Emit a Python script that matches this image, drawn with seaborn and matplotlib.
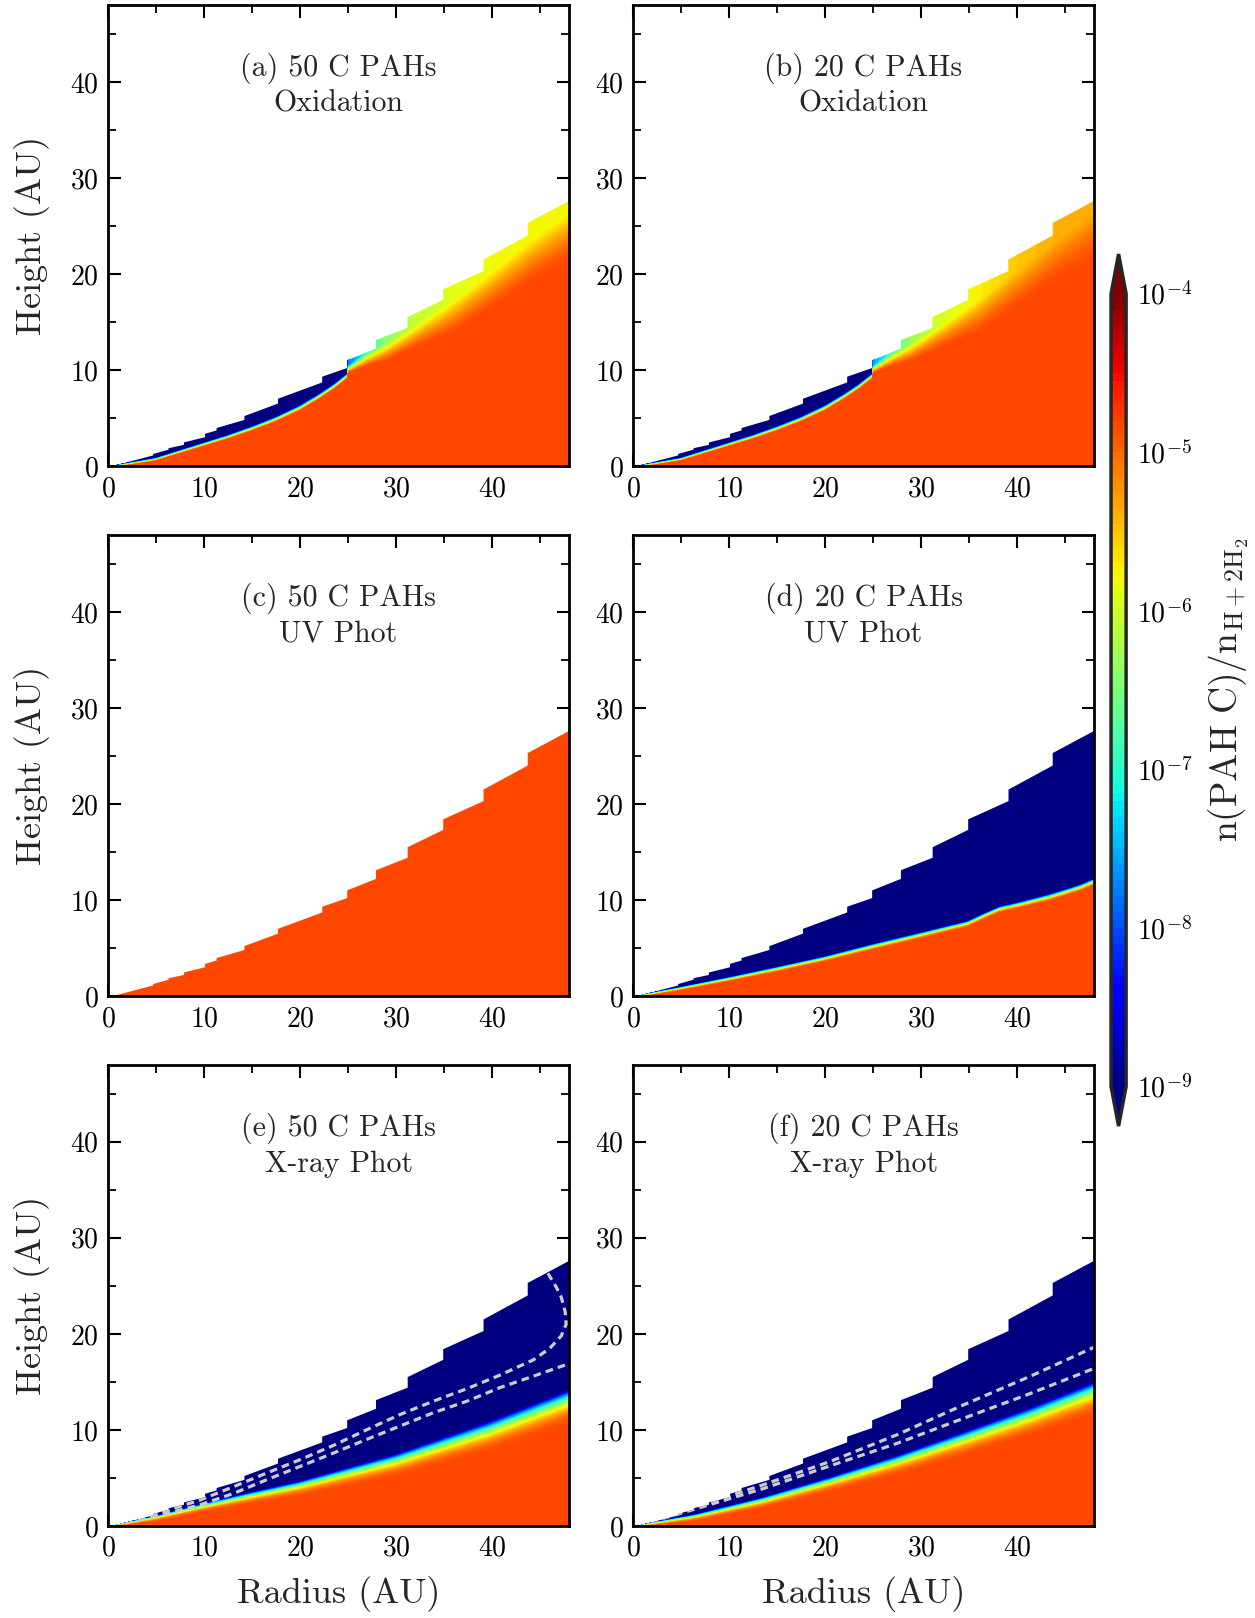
import numpy as np
import seaborn as sns
import matplotlib.pyplot as plt
from matplotlib.path import Path
from matplotlib.ticker import MultipleLocator

# top of the model grid (stepped disk surface), shared by all panels
edge_r = [0.5, 4.7, 6.3, 7.9, 10.1, 11.3, 14.2, 17.7, 22.3, 24.9, 27.9, 31.2, 34.9, 39.1, 43.7, 48.0]
edge_lo = [0.0, 1.1, 1.7, 2.2, 3.0, 3.7, 4.8, 6.5, 8.7, 10.2, 12.2, 14.4, 17.3, 20.3, 24.0, 27.6]
edge_hi = [0.0, 1.25, 1.85, 2.45, 3.35, 3.95, 5.2, 7.0, 9.3, 11.0, 13.1, 15.5, 18.4, 21.5, 25.3, 27.6]

bulk = -4.83  # log10 n(PAH C)/n deep in the disk

# (a) 50 C oxidation: transition height, width, value above it
a_r = [0, 5, 10, 12.5, 15, 17.5, 20, 22, 23.5, 24.9, 25.0, 27, 29, 32, 36, 40, 44, 48]
a_zt = [0, 0.9, 2.5, 3.3, 4.2, 5.2, 6.4, 7.6, 8.6, 9.7, 10.4, 11.8, 12.8, 14.6, 17.2, 20.2, 23.4, 26.2]
a_w = [0.3, 0.4, 0.5, 0.55, 0.6, 0.65, 0.7, 0.7, 0.7, 0.7, 0.8, 1.5, 2.0, 2.5, 3.5, 4.0, 4.5, 5.0]
a_top = [-10] * 10 + [-7.8, -7.0, -6.4, -6.05, -5.88, -5.8, -5.78, -5.75]

# (b) 20 C oxidation
b_r = a_r
b_zt = a_zt
b_w = a_w
b_top = [-10] * 10 + [-7.6, -6.9, -6.3, -5.95, -5.72, -5.5, -5.4, -5.35]

# (c) 50 C UV: untouched
c_r = [0, 48]
c_zt = [0, 30]
c_w = [1, 1]
c_top = [bulk, bulk]

# (d) 20 C UV
d_r = [0, 5, 9.9, 15, 20, 25, 30, 34.9, 36.6, 38.2, 40, 43.4, 46.6, 48]
d_zt = [0, 1.0, 2.0, 3.1, 4.2, 5.5, 6.7, 7.9, 8.7, 9.4, 9.8, 10.7, 11.7, 12.3]
d_w = [0.3, 0.5, 0.6, 0.7, 0.7, 0.8, 0.8, 0.8, 0.8, 0.8, 0.8, 0.9, 0.9, 0.9]
d_top = [-10] * 14

# (e) 50 C X-ray
e_r = [0, 5, 9.9, 14.8, 20, 30, 39.8, 48]
e_zt = [0, 1.1, 2.4, 3.6, 4.8, 7.7, 11.2, 14.5]
e_w = [0.3, 0.8, 1.2, 1.6, 2.0, 3.0, 4.0, 4.6]
e_top = [-10] * 8

# (f) 20 C X-ray
f_r = [0, 6.6, 13.6, 20.5, 27.5, 34.4, 41.4, 48]
f_zt = [0, 1.3, 3.1, 5.2, 7.5, 10.0, 12.6, 15.3]
f_w = [0.3, 1.0, 1.5, 2.0, 2.6, 3.2, 3.8, 4.4]
f_top = [-10] * 8

# dashed contours in the X-ray panels
e_d1_r = [0.5, 3.0, 6.1, 9.6, 13.1, 16.5, 20.0, 23.5, 26.9, 30.4, 33.9, 37.4, 40.8, 44.3, 48.0]
e_d1_z = [0.1, 0.6, 1.3, 2.2, 3.4, 4.8, 6.2, 7.6, 9.0, 10.4, 11.8, 13.0, 14.4, 15.6, 16.9]
e_d2_r = [0.5, 6.1, 9.6, 13.1, 16.5, 20.0, 23.5, 26.9, 30.4, 33.9, 37.4, 40.8, 44.3, 46.0, 47.2, 47.7, 47.6, 47.2, 46.6, 45.8]
e_d2_z = [0.1, 1.6, 2.7, 4.1, 5.5, 6.9, 8.4, 10.0, 11.6, 13.0, 14.3, 15.7, 17.3, 18.5, 19.8, 21.0, 22.3, 23.8, 25.0, 26.3]
f_d1_r = [0.5, 3.2, 6.6, 13.6, 20.5, 27.5, 34.4, 41.4, 48.0]
f_d1_z = [0.1, 0.8, 1.8, 3.9, 6.25, 8.6, 11.2, 13.8, 16.4]
f_d2_r = [0.5, 3.2, 6.6, 13.6, 20.5, 27.5, 34.4, 41.4, 48.0]
f_d2_z = [0.1, 1.0, 2.0, 4.3, 6.7, 9.5, 12.6, 15.6, 18.6]

labels = ['(a) 50 C PAHs\nOxidation', '(b) 20 C PAHs\nOxidation',
          '(c) 50 C PAHs\nUV Phot', '(d) 20 C PAHs\nUV Phot',
          '(e) 50 C PAHs\nX-ray Phot', '(f) 20 C PAHs\nX-ray Phot']

sns.set_theme(style='ticks')
plt.rcParams['font.family'] = 'serif'
plt.rcParams['font.serif'] = ['cmr10', 'DejaVu Serif']
plt.rcParams['mathtext.fontset'] = 'cm'
plt.rcParams['axes.formatter.use_mathtext'] = True
plt.rcParams['axes.unicode_minus'] = False

rr = np.linspace(0, 48, 961)
zz = np.linspace(0, 30, 601)
R, Z = np.meshgrid(rr, zz)


def layer_field(r_pts, zt_pts, w_pts, top_pts, power):
    zt = np.interp(R, r_pts, zt_pts)
    w = np.interp(R, r_pts, w_pts)
    top = np.interp(R, r_pts, top_pts)
    t = np.clip((Z - zt + w) / w, 0, 1)
    return bulk + (top - bulk) * t ** power


fields = [layer_field(a_r, a_zt, a_w, a_top, 1.5),
          layer_field(b_r, b_zt, b_w, b_top, 1.5),
          layer_field(c_r, c_zt, c_w, c_top, 1.0),
          layer_field(d_r, d_zt, d_w, d_top, 2.0),
          layer_field(e_r, e_zt, e_w, e_top, 3.0),
          layer_field(f_r, f_zt, f_w, f_top, 3.0)]

# clip polygon from the stepped surface
verts = [(0, 0)]
for r, lo, hi in zip(edge_r, edge_lo, edge_hi):
    verts.append((r, lo))
    verts.append((r, hi))
verts += [(48, 0), (0, 0)]
surface = Path(verts)

levels = np.linspace(-9, -4, 101)

fig = plt.figure(figsize=(12.55, 16.18), dpi=100)
lefts = [0.0861, 0.5044]
bottoms = [0.7120, 0.3844, 0.0569]
w_ax, h_ax = 0.3673, 0.2849

cs = None
for i in range(6):
    row, col = divmod(i, 2)
    ax = fig.add_axes([lefts[col], bottoms[row], w_ax, h_ax])
    cs = ax.contourf(R, Z, fields[i], levels=levels, cmap='jet', extend='both')
    cs.set_clip_path(surface, ax.transData)

    if i == 4:
        for xs, ys in [(e_d1_r, e_d1_z), (e_d2_r, e_d2_z)]:
            sns.lineplot(x=xs, y=ys, ax=ax, sort=False, estimator=None,
                         color='#cccccc', lw=2.3, linestyle=(0, (2.4, 1.6)))
    if i == 5:
        for xs, ys in [(f_d1_r, f_d1_z), (f_d2_r, f_d2_z)]:
            sns.lineplot(x=xs, y=ys, ax=ax, sort=False, estimator=None,
                         color='#cccccc', lw=2.3, linestyle=(0, (2.4, 1.6)))
    for ln in ax.lines:
        ln.set_clip_path(surface, ax.transData)

    ax.set_xlim(0, 48)
    ax.set_ylim(0, 48)
    ax.xaxis.set_major_locator(MultipleLocator(10))
    ax.yaxis.set_major_locator(MultipleLocator(10))
    ax.xaxis.set_minor_locator(MultipleLocator(5))
    ax.yaxis.set_minor_locator(MultipleLocator(5))
    ax.tick_params(which='both', direction='in', top=True, right=True,
                   labelsize=20, pad=7, colors='black')
    ax.tick_params(which='major', length=9, width=1.5)
    ax.tick_params(which='minor', length=6, width=1.3)
    for sp in ax.spines.values():
        sp.set_linewidth(2)
        sp.set_color('black')
    ax.set_facecolor('white')
    ax.text(0.5, 0.826, labels[i], transform=ax.transAxes, ha='center', va='center',
            fontsize=21.5, linespacing=1.3)
    if col == 0:
        ax.set_ylabel('Height (AU)', fontsize=26, labelpad=14)
    if row == 2:
        ax.set_xlabel('Radius (AU)', fontsize=26, labelpad=10)

cax = fig.add_axes([0.8853, 0.3040, 0.012, 0.5390])
cb = fig.colorbar(cs, cax=cax, ticks=list(range(-9, -3)))
cb.set_ticklabels([r'$10^{%d}$' % k for k in range(-9, -3)])
cb.outline.set_linewidth(2.5)
cb.ax.tick_params(direction='in', length=11, width=1.2, labelsize=20, pad=8, colors='black')
cb.set_label(r'$\mathrm{n(PAH\ C)/n_{H+2H_2}}$', fontsize=27, labelpad=10)

fig.savefig('out.png', dpi=100)
